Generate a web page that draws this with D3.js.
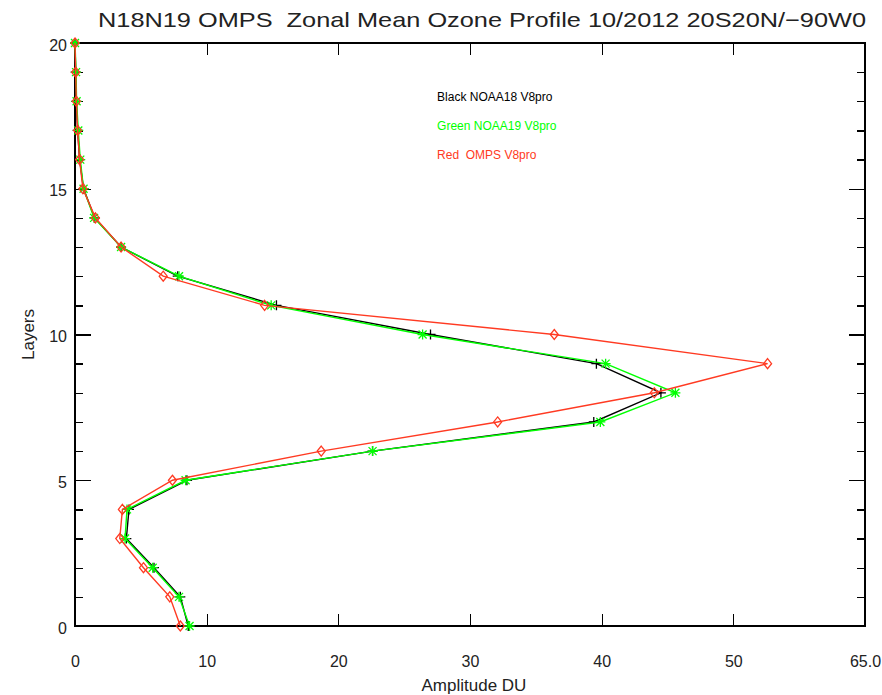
<!DOCTYPE html>
<html lang="en">
<head>
    <meta charset="UTF-8">
    <title>N18N19 OMPS Zonal Mean Ozone Profile</title>
    <script src="https://d3js.org/d3.v7.min.js"></script>
    <style>
        body {
            margin: 0;
            background-color: white;
            font-family: 'Liberation Sans', 'DejaVu Sans', sans-serif;
        }
        .axis path, .axis line {
            stroke: black;
            stroke-width: 1.3px;
            shape-rendering: crispEdges;
        }
        .axis text {
            font-size: 16px;
            fill: #222;
        }
        .series {
            fill: none;
            stroke-width: 1.4px;
        }
    </style>
</head>
<body>
    <div id="chart"></div>
    <script>
        // layers 0..20 (bottom to top)
        const layers = d3.range(0, 21);
        const noaa18 = [8.6, 8.0, 6.0, 3.9, 4.1, 8.5, 22.6, 39.4, 44.5, 39.6, 27.0, 15.3, 7.8, 3.5, 1.5, 0.65, 0.35, 0.2, 0.1, 0.05, 0.0];
        const noaa19 = [8.7, 7.9, 5.9, 3.8, 3.95, 8.4, 22.6, 39.9, 45.6, 40.3, 26.4, 14.9, 7.9, 3.5, 1.45, 0.65, 0.4, 0.25, 0.12, 0.08, 0.0];
        const omps = [8.0, 7.2, 5.2, 3.4, 3.6, 7.4, 18.7, 32.1, 44.0, 52.6, 36.4, 14.4, 6.7, 3.5, 1.55, 0.6, 0.35, 0.2, 0.1, 0.05, 0.0];
        const xTicks = [0, 10, 20, 30, 40, 50, 60];
        const xTickLabels = ["0", "10", "20", "30", "40", "50", "65.0"];
        const yTicks = [0, 5, 10, 15, 20];
        const legendLabels = ["Black NOAA18 V8pro", "Green NOAA19 V8pro", "Red  OMPS V8pro"];

        const W = 882, H = 695;
        const margin = { top: 43, right: 17, bottom: 69, left: 75 };
        const width = W - margin.left - margin.right;
        const height = H - margin.top - margin.bottom;

        const svg = d3.select("#chart").append("svg")
            .attr("width", W)
            .attr("height", H);

        const g = svg.append("g")
            .attr("transform", `translate(${margin.left},${margin.top})`);

        const x = d3.scaleLinear().domain([0, 60]).range([0, width]);
        const y = d3.scaleLinear().domain([0, 20]).range([height, 0]);

        // frame
        g.append("rect")
            .attr("width", width).attr("height", height)
            .attr("fill", "none").attr("stroke", "black").attr("stroke-width", 1.3)
            .style("shape-rendering", "crispEdges");

        // bottom axis
        g.append("g").attr("class", "axis")
            .attr("transform", `translate(0,${height})`)
            .call(d3.axisBottom(x).tickValues(xTicks).tickSize(-12).tickPadding(30)
                .tickFormat((d, i) => xTickLabels[i]))
            .call(a => a.select(".domain").remove());
        // top axis ticks
        g.append("g").attr("class", "axis")
            .call(d3.axisTop(x).tickValues(xTicks).tickSize(-12).tickFormat(""))
            .call(a => a.select(".domain").remove());

        // left axis: minor + major
        g.append("g").attr("class", "axis")
            .call(d3.axisLeft(y).tickValues(layers).tickSize(-8).tickFormat(""))
            .call(a => a.select(".domain").remove());
        g.append("g").attr("class", "axis")
            .call(d3.axisLeft(y).tickValues(yTicks).tickSize(-16).tickPadding(8).tickFormat(d3.format("d")))
            .call(a => a.select(".domain").remove())
            .selectAll("text").attr("dy", "0.45em");
        // right axis
        g.append("g").attr("class", "axis")
            .attr("transform", `translate(${width},0)`)
            .call(d3.axisRight(y).tickValues(layers).tickSize(-8).tickFormat(""))
            .call(a => a.select(".domain").remove());
        g.append("g").attr("class", "axis")
            .attr("transform", `translate(${width},0)`)
            .call(d3.axisRight(y).tickValues(yTicks).tickSize(-16).tickFormat(""))
            .call(a => a.select(".domain").remove());

        // series
        const series = [
            { vals: noaa18, color: "#000000", marker: "plus" },
            { vals: noaa19, color: "#00ff00", marker: "star" },
            { vals: omps, color: "#ff3a22", marker: "diamond" }
        ];

        const line = d3.line()
            .x(d => x(d[0]))
            .y(d => y(d[1]));

        series.forEach(s => {
            const pts = s.vals.map((v, i) => [v, layers[i]]);
            g.append("path")
                .datum(pts)
                .attr("class", "series")
                .attr("stroke", s.color)
                .attr("d", line);

            const m = g.append("g").selectAll("g").data(pts).enter().append("g")
                .attr("transform", d => `translate(${x(d[0])},${y(d[1])})`)
                .attr("stroke", s.color).attr("fill", "none").attr("stroke-width", 1.3);
            if (s.marker === "plus") {
                m.append("path").attr("d", "M-5,0H5M0,-5V5");
            } else if (s.marker === "star") {
                m.append("path").attr("d", "M-5,0H5M0,-5V5M-4,-4L4,4M-4,4L4,-4");
            } else {
                m.append("path").attr("d", "M0,-5L4,0L0,5L-4,0Z");
            }
        });

        // legend
        g.append("g").selectAll("text")
            .data(legendLabels)
            .enter().append("text")
            .attr("x", x(27.5))
            .attr("y", (d, i) => y(18.2) + 6 + i * 29)
            .attr("font-size", 12)
            .attr("fill", (d, i) => series[i].color)
            .style("white-space", "pre")
            .text(d => d);

        // title
        svg.append("text")
            .attr("x", 98).attr("y", 27)
            .attr("font-size", 21)
            .attr("fill", "#222")
            .attr("textLength", 768)
            .attr("lengthAdjust", "spacingAndGlyphs")
            .style("white-space", "pre")
            .text("N18N19 OMPS  Zonal Mean Ozone Profile 10/2012 20S20N/\u221290W0");

        // axis titles
        svg.append("text")
            .attr("x", margin.left + x(30.3)).attr("y", 691)
            .attr("text-anchor", "middle")
            .attr("font-size", 17)
            .attr("fill", "#222")
            .text("Amplitude DU");

        svg.append("text")
            .attr("transform", `translate(34,${margin.top + y(10)}) rotate(-90)`)
            .attr("text-anchor", "middle")
            .attr("font-size", 17)
            .attr("fill", "#222")
            .text("Layers");
    </script>
</body>
</html>
